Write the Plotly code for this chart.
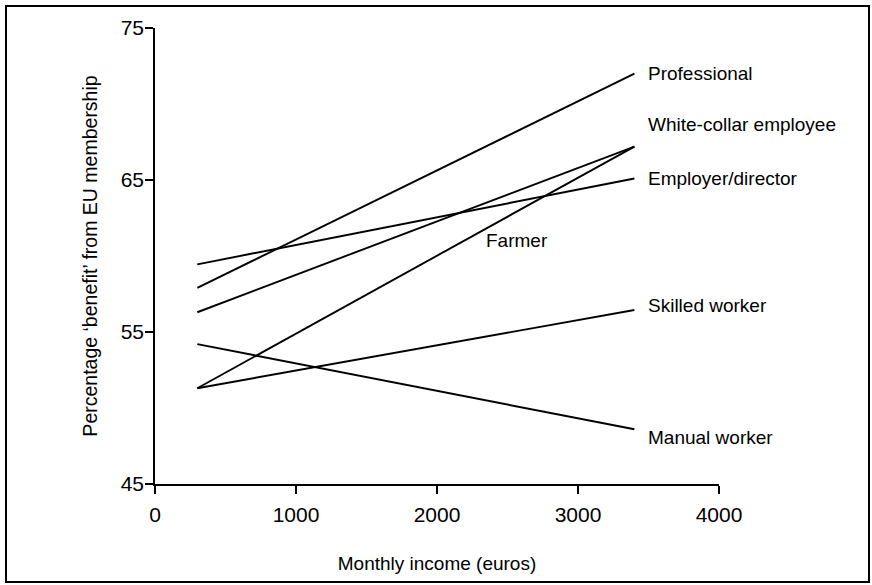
import plotly.graph_objects as go

# Data (monthly income in euros -> percentage "benefit")
income = [300, 3400]
groups = ["Professional", "White-collar employee", "Employer/director",
          "Farmer", "Skilled worker", "Manual worker"]
start_pct = [57.9, 56.3, 59.45, 51.3, 51.3, 54.2]
end_pct = [72.0, 67.2, 65.1, 67.2, 56.45, 48.6]

x_ticks = [0, 1000, 2000, 3000, 4000]
y_ticks = [45, 55, 65, 75]

FONT = "Liberation Sans, Arial, sans-serif"
TICKFONT = "Liberation Sans Narrow, Arial Narrow, Liberation Sans, Arial, sans-serif"

fig = go.Figure()
for g, s, e in zip(groups, start_pct, end_pct):
    fig.add_trace(go.Scatter(
        x=income, y=[s, e], mode="lines", name=g,
        line=dict(color="black", width=1.9),
        showlegend=False, hoverinfo="name"))

# Labels near the line ends (shifts in pixels)
label_shift = {
    "Professional": (12, 0),
    "White-collar employee": (12, 22),
    "Employer/director": (12, 0),
    "Skilled worker": (12, 4),
    "Manual worker": (12, -8),
}
for g, e in zip(groups, end_pct):
    if g in label_shift:
        dx, dy = label_shift[g]
        fig.add_annotation(x=income[1], y=e, text=g, showarrow=False,
                           xanchor="left", yanchor="middle", xshift=dx, yshift=dy,
                           font=dict(family=FONT, size=19, color="black"))
# Farmer label sits below the crossing lines
fig.add_annotation(x=2570, y=61.05, text="Farmer", showarrow=False,
                   xanchor="center", yanchor="middle",
                   font=dict(family=FONT, size=19, color="black"))

# Outer frame around the whole figure
W, H = 872, 585
ml, mr, mt, mb = 155, 153, 28, 101
pw, ph = W - ml - mr, H - mt - mb
def px_x(p):
    return (p - ml) / pw
def px_y(p):
    return (H - mb - p) / ph
fig.add_shape(type="rect", xref="paper", yref="paper",
              x0=px_x(6), x1=px_x(869), y0=px_y(6), y1=px_y(582),
              line=dict(color="black", width=2), fillcolor="rgba(0,0,0,0)",
              layer="below")

axis_common = dict(showline=True, linecolor="black", linewidth=1.6,
                   ticks="outside", ticklen=8, tickwidth=1.6, tickcolor="black",
                   showgrid=False, zeroline=False,
                   tickfont=dict(family=TICKFONT, size=21, color="black"))

fig.update_layout(
    width=W, height=H,
    margin=dict(l=ml, r=mr, t=mt, b=mb, pad=0),
    paper_bgcolor="white", plot_bgcolor="white",
    xaxis=dict(range=[0, 4000], tickvals=x_ticks, ticklabelstandoff=3,
               title=dict(text="Monthly income (euros)", standoff=32,
                          font=dict(family=FONT, size=19, color="black")),
               **axis_common),
    yaxis=dict(range=[45, 75], tickvals=y_ticks, ticklabelstandoff=-3,
               title=dict(text="Percentage ‘benefit’ from EU membership", standoff=18,
                          font=dict(family=FONT, size=19.5, color="black")),
               **axis_common),
)

# Remove the default page margin so the figure sits at the window's top-left corner
fig.write_html("out.html", config={"displayModeBar": False},
               post_script="document.body.style.margin='0';")
